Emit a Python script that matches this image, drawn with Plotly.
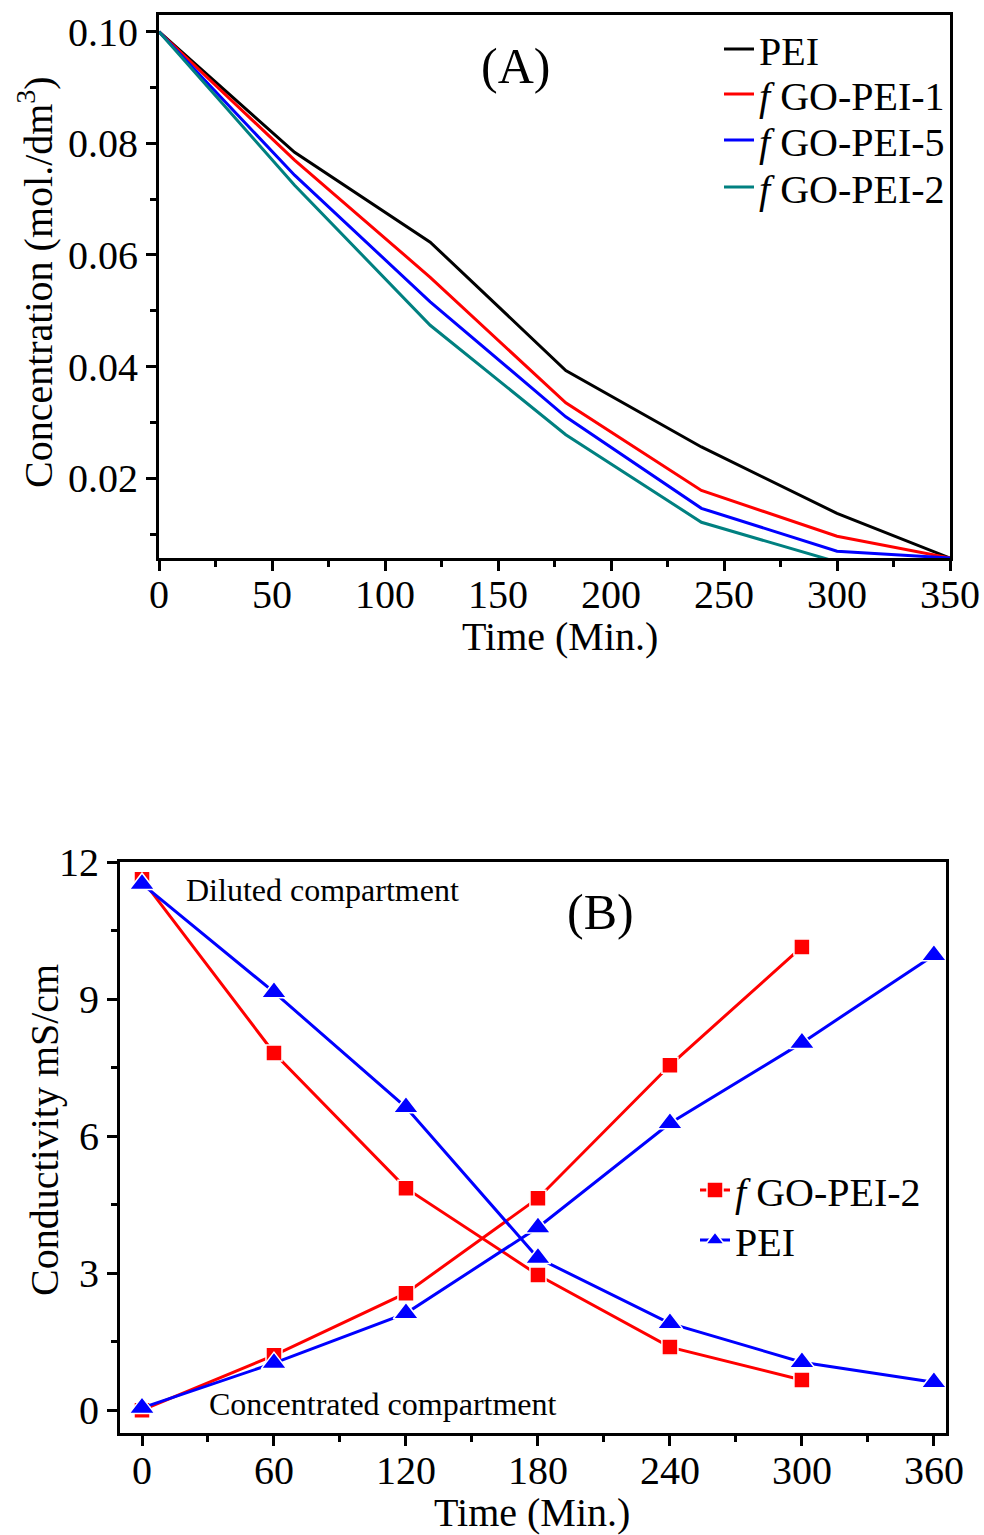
import plotly.graph_objects as go
from plotly.subplots import make_subplots

# --- panel A: concentration vs time ---
t_a = [0, 60, 120, 180, 240, 300, 350]
conc_pei = [0.100, 0.0784, 0.0623, 0.0393, 0.0256, 0.0137, 0.0057]
conc_go1 = [0.100, 0.0770, 0.0560, 0.0335, 0.0178, 0.0096, 0.0057]
conc_go5 = [0.100, 0.0743, 0.0516, 0.0310, 0.0146, 0.0069, 0.0057]
conc_go2 = [0.100, 0.0725, 0.0474, 0.0278, 0.0121, 0.0050, 0.0035]

# --- panel B: conductivity vs time ---
t_b = [0, 60, 120, 180, 240, 300, 360]
dil_go2 = [11.62, 7.82, 4.86, 2.96, 1.38, 0.66]
con_go2 = [0.0, 1.20, 2.56, 4.64, 7.55, 10.14]
dil_pei = [11.52, 9.15, 6.63, 3.33, 1.90, 1.05, 0.61]
con_pei = [0.05, 1.03, 2.12, 4.00, 6.28, 8.04, 9.96]

FONT = "Liberation Serif, Times New Roman, serif"
W, H = 984, 1535

fig = make_subplots(rows=2, cols=1)

# one legend per entry so the rows can sit exactly where the reference has them
lines_a = [
    ("PEI", conc_pei, "black", "legend", 49),
    ("<i>f</i> GO-PEI-1", conc_go1, "#ff0000", "legend2", 94),
    ("<i>f</i> GO-PEI-5", conc_go5, "#0000ff", "legend3", 140),
    ("<i>f</i> GO-PEI-2", conc_go2, "#008080", "legend4", 187),
]
for name, ys, col, lg, _ in lines_a:
    fig.add_trace(go.Scatter(x=t_a, y=ys, mode="lines", name=name,
                             line=dict(color=col, width=3), legend=lg),
                  row=1, col=1)

# red squares / blue triangles, white outline mimics Origin's line gaps
sq = dict(symbol="square", size=16, color="#ff0000", line=dict(color="white", width=1.5))
tri = dict(symbol="triangle-up", size=22, color="#0000ff", line=dict(color="white", width=1.5))
fig.add_trace(go.Scatter(x=t_b[:6], y=dil_go2, mode="lines+markers", name="<i>f</i> GO-PEI-2",
                         line=dict(color="#ff0000", width=3), marker=sq, legend="legend5"),
              row=2, col=1)
fig.add_trace(go.Scatter(x=t_b[:6], y=con_go2, mode="lines+markers", showlegend=False,
                         line=dict(color="#ff0000", width=3), marker=sq),
              row=2, col=1)
fig.add_trace(go.Scatter(x=t_b, y=dil_pei, mode="lines+markers", name="PEI",
                         line=dict(color="#0000ff", width=3), marker=tri, legend="legend6"),
              row=2, col=1)
fig.add_trace(go.Scatter(x=t_b, y=con_pei, mode="lines+markers", showlegend=False,
                         line=dict(color="#0000ff", width=3), marker=tri),
              row=2, col=1)

axis_common = dict(showline=True, linecolor="black", linewidth=3, mirror=True,
                   ticks="outside", ticklen=10, tickwidth=3, tickcolor="black",
                   showgrid=False, zeroline=False, automargin=False,
                   tickfont=dict(family=FONT, size=40, color="black"))
minor_common = dict(ticks="outside", ticklen=6, tickwidth=3, tickcolor="black")

fig.update_xaxes(axis_common, row=1, col=1, range=[0, 350], tickvals=[0, 50, 100, 150, 200, 250, 300, 350],
                 minor=dict(minor_common, dtick=25), ticklabelstandoff=-11,
                 domain=[159 / W, 950 / W])
fig.update_yaxes(axis_common, row=1, col=1, range=[0.0057, 0.1030],
                 tickvals=[0.02, 0.04, 0.06, 0.08, 0.10], tickformat=".2f",
                 minor=dict(minor_common, tickvals=[0.01, 0.03, 0.05, 0.07, 0.09]),
                 domain=[1 - 558 / H, 1 - 15 / H])
fig.update_xaxes(axis_common, row=2, col=1, range=[-10, 365.5], tickvals=t_b,
                 minor=dict(minor_common, tickvals=[30, 90, 150, 210, 270, 330]),
                 ticklabelstandoff=-10,
                 domain=[120 / W, 946 / W])
fig.update_yaxes(axis_common, row=2, col=1, range=[-0.5, 12], tickvals=[0, 3, 6, 9, 12],
                 minor=dict(minor_common, tickvals=[1.5, 4.5, 7.5, 10.5]),
                 domain=[1 - 1433 / H, 1 - 862 / H])

def label(text, x, y, size=40, angle=0, xanchor="center"):
    fig.add_annotation(text=text, x=x / W, y=1 - y / H, xref="paper", yref="paper",
                       showarrow=False, textangle=angle, xanchor=xanchor, yanchor="middle",
                       font=dict(family=FONT, size=size, color="black"))

label("(A)", 515, 66, size=50)
label("Concentration (mol./dm<sup>3</sup>)", 36, 282, angle=-90)
label("Time (Min.)", 560, 636)
label("(B)", 600, 912, size=50)
label("Diluted compartment", 184, 890, size=32, xanchor="left")
label("Concentrated compartment", 207, 1404, size=32, xanchor="left")
label("Conductivity mS/cm", 44, 1130, angle=-90)
label("Time (Min.)", 532, 1512)

legends = {}
for _, _, _, lg, row_y in lines_a:
    legends[lg] = (719, row_y)
legends["legend5"] = (695, 1190)
legends["legend6"] = (695, 1240)
for lg, (lx, ly) in legends.items():
    legends[lg] = dict(x=lx / W, y=1 - ly / H, xanchor="left", yanchor="middle",
                       bgcolor="rgba(0,0,0,0)", font=dict(family=FONT, size=40, color="black"),
                       itemwidth=30)

fig.update_layout(
    width=W, height=H,
    margin=dict(l=0, r=0, t=0, b=0),
    plot_bgcolor="white", paper_bgcolor="white",
    font=dict(family=FONT, color="black"),
    **legends,
)

# drop the browser's default 8px body margin so the figure fills the window
fig.write_html("out.html", config={"displayModeBar": False},
               post_script="document.body.style.margin='0px';")
